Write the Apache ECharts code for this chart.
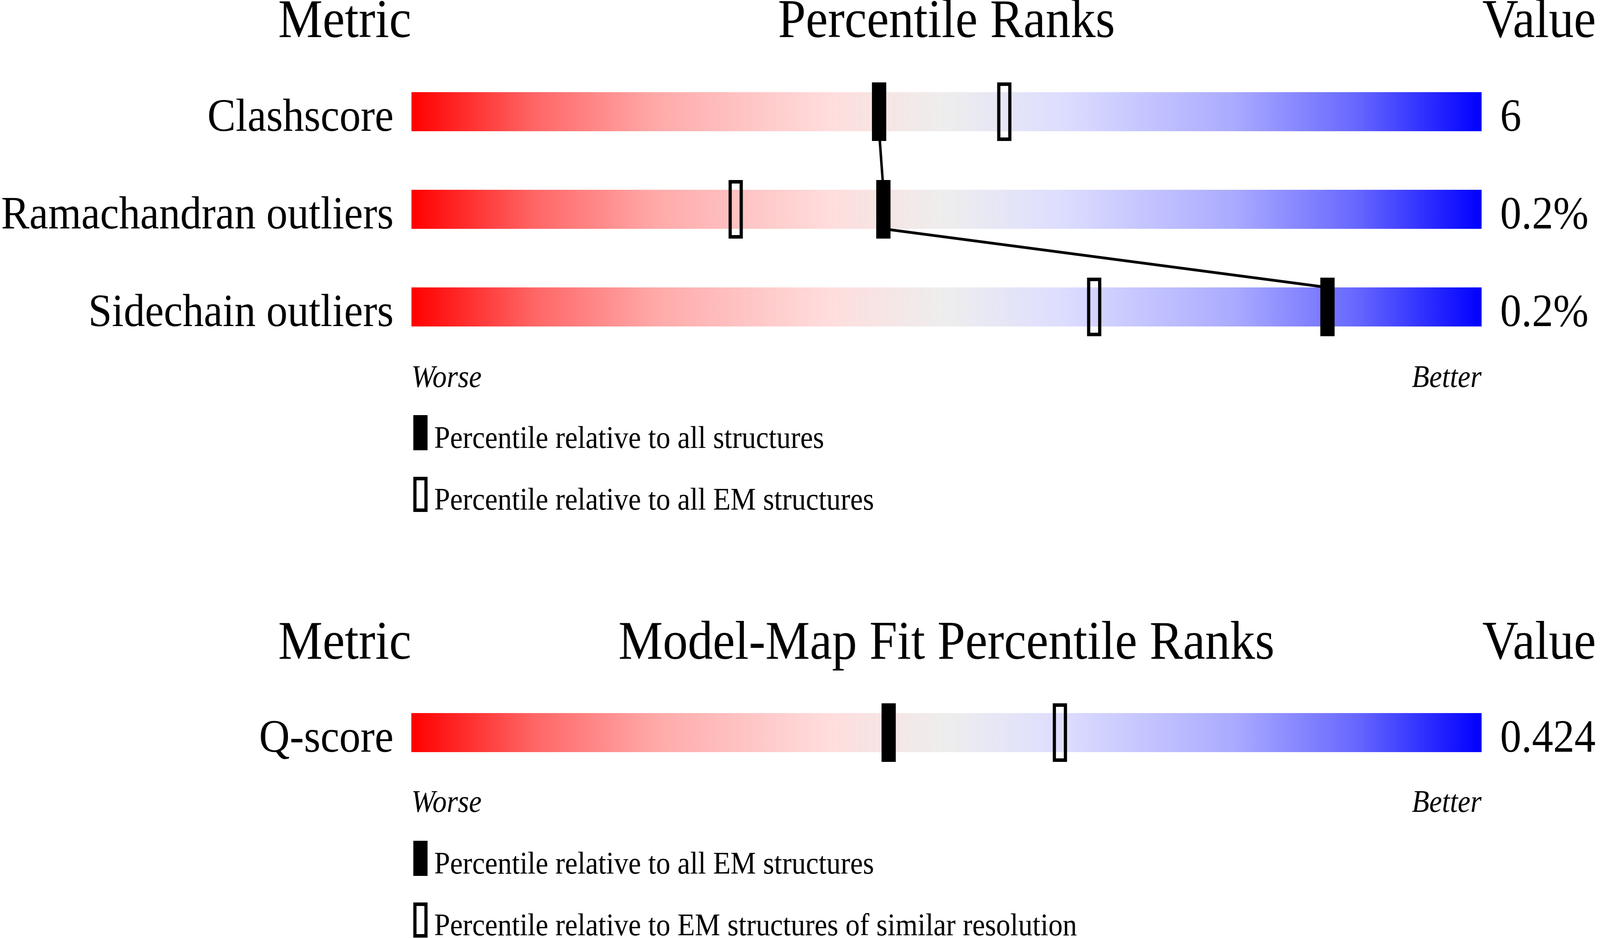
<!DOCTYPE html>
<html>
<head>
<meta charset="utf-8">
<script src="https://cdn.jsdelivr.net/npm/echarts@6/dist/echarts.min.js"></script>
<style>
  html, body { margin: 0; padding: 0; background: #fff; overflow: hidden; }
  #chart { width: 4485px; height: 2402px; transform-origin: 0 0; }
</style>
</head>
<body>
<div id="chart"></div>
<script>
// ---------- data ----------
const metrics1 = ['Clashscore', 'Ramachandran outliers', 'Sidechain outliers'];
const values1 = ['6', '0.2%', '0.2%'];
const pctAll1 = [43.7, 44.1, 85.6];      // percentile relative to all structures
const pctEM1 = [55.4, 30.3, 63.8];       // percentile relative to all EM structures
const fullScale1 = [100, 100, 100];

const metrics2 = ['Q-score'];
const values2 = ['0.424'];
const pctAllEM2 = [44.6];                // percentile relative to all EM structures
const pctSimRes2 = [60.6];               // percentile relative to EM structures of similar resolution
const fullScale2 = [100];

const headers1 = ['Metric', 'Percentile Ranks', 'Value'];
const headers2 = ['Metric', 'Model-Map Fit Percentile Ranks', 'Value'];
const endLabels = ['Worse', 'Better'];
const legendLabels1 = ['Percentile relative to all structures', 'Percentile relative to all EM structures'];
const legendLabels2 = ['Percentile relative to all EM structures', 'Percentile relative to EM structures of similar resolution'];

// ---------- styling ----------
const W = 4485, H = 2402;
const FONT = 'Liberation Serif';
const GL = 1153, GW = 3000;
const BAR_H = 100;
const MARK_W = 40, MARK_H = 150, MARK_BORDER = 9;
const gradient = {
  type: 'linear', x: 0, y: 0, x2: 1, y2: 0,
  colorStops: [
    { offset: 0, color: '#ff0000' },
    { offset: 0.115, color: '#ff6666' },
    { offset: 0.23, color: '#ffaaaa' },
    { offset: 0.39, color: '#ffdddd' },
    { offset: 0.5, color: '#eeeeee' },
    { offset: 0.61, color: '#ddddff' },
    { offset: 0.77, color: '#aaaaff' },
    { offset: 0.885, color: '#6666ff' },
    { offset: 1, color: '#0000ff' }
  ]
};

const legendNameMap = {
  s1all: legendLabels1[0], s1em: legendLabels1[1],
  s2all: legendLabels2[0], s2sim: legendLabels2[1]
};

function yAxesFor(gridIndex, cats, vals) {
  const common = {
    type: 'category', gridIndex: gridIndex, inverse: true,
    axisLine: { show: false }, axisTick: { show: false }, splitLine: { show: false }
  };
  const lbl = { fontFamily: FONT, fontSize: 119, color: '#000', verticalAlign: 'top', lineHeight: 36 };
  return [
    Object.assign({}, common, { position: 'left', data: cats, axisLabel: Object.assign({ margin: 50 }, lbl) }),
    Object.assign({}, common, { position: 'right', data: vals, axisLabel: Object.assign({ margin: 52 }, lbl) })
  ];
}

function connectorRender(params, api) {
  const p1 = api.coord([api.value(0), api.value(1)]);
  const p2 = api.coord([api.value(2), api.value(3)]);
  const half = BAR_H / 2;
  return {
    type: 'line',
    shape: { x1: p1[0], y1: p1[1] + half, x2: p2[0], y2: p2[1] - half },
    style: { stroke: '#000', lineWidth: 7 }
  };
}

const segments1 = pctAll1.slice(0, -1).map((v, i) => [v, i, pctAll1[i + 1], i + 1]);

function markerSeries(name, xi, yi, pcts, filled) {
  const fill = filled ? '#000' : 'rgba(0,0,0,0)';
  return {
    name: name, type: 'custom', xAxisIndex: xi, yAxisIndex: yi, z: 5,
    data: pcts.map((v, i) => [v, i]),
    encode: { x: 0, y: 1 },
    itemStyle: { color: fill, borderColor: '#000', borderWidth: MARK_BORDER },
    renderItem: function (params, api) {
      const c = api.coord([api.value(0), api.value(1)]);
      const w = MARK_W - MARK_BORDER, h = MARK_H - MARK_BORDER;
      return {
        type: 'rect',
        shape: { x: c[0] - w / 2, y: c[1] - h / 2, width: w, height: h },
        style: { fill: fill, stroke: '#000', lineWidth: MARK_BORDER }
      };
    },
    silent: true
  };
}

function legendAt(top, names) {
  return {
    orient: 'vertical', left: GL - 4 + MARK_BORDER / 2, top: top, height: 600,
    itemWidth: MARK_W - MARK_BORDER, itemHeight: 90 - MARK_BORDER, itemGap: 55,
    selectedMode: false,
    data: names.map(n => ({ name: n, icon: 'rect' })),
    itemStyle: { borderWidth: MARK_BORDER, borderColor: '#000' },
    formatter: n => '{t|' + legendNameMap[n] + '}',
    textStyle: {
      fontFamily: FONT, fontSize: 80, color: '#000',
      rich: { t: { fontFamily: FONT, fontSize: 80, color: '#000', padding: [36, 0, 0, 18] } }
    }
  };
}

function headerTexts(y, h) {
  return [
    { type: 'text', x: GL, y: y, style: { text: h[0], font: '140px "' + FONT + '"', fill: '#000', align: 'right', verticalAlign: 'middle' } },
    { type: 'text', x: GL + GW / 2, y: y, style: { text: h[1], font: '140px "' + FONT + '"', fill: '#000', align: 'center', verticalAlign: 'middle' } },
    { type: 'text', x: 4155, y: y, style: { text: h[2], font: '140px "' + FONT + '"', fill: '#000', align: 'left', verticalAlign: 'middle' } }
  ];
}
function endTexts(y) {
  return [
    { type: 'text', x: GL, y: y, style: { text: endLabels[0], font: 'italic 80px "' + FONT + '"', fill: '#000', align: 'left', verticalAlign: 'middle' } },
    { type: 'text', x: GL + GW, y: y, style: { text: endLabels[1], font: 'italic 80px "' + FONT + '"', fill: '#000', align: 'right', verticalAlign: 'middle' } }
  ];
}

// the page viewport may differ from the design size: fit the whole figure into it
const el = document.getElementById('chart');
const vw = window.innerWidth || W, vh = window.innerHeight || H;
el.style.transform = 'scale(' + (vw / W) + ',' + (vh / H) + ')';

const chart = echarts.init(el, null, { renderer: 'canvas', width: W, height: H });
chart.setOption({
  animation: false,
  backgroundColor: '#fff',
  grid: [
    { left: GL, top: 161, width: GW, height: 750, containLabel: false },
    { left: GL, top: 1751, width: GW, height: 250, containLabel: false }
  ],
  xAxis: [
    { type: 'value', gridIndex: 0, min: 0, max: 100, show: false },
    { type: 'value', gridIndex: 1, min: 0, max: 100, show: false }
  ],
  yAxis: yAxesFor(0, metrics1, values1).concat(yAxesFor(1, metrics2, values2)),
  legend: [
    legendAt(1058, ['s1all', 's1em']),
    legendAt(2148, ['s2all', 's2sim'])
  ],
  graphic: headerTexts(58, headers1).concat(headerTexts(1650, headers2), endTexts(970), endTexts(2058)),
  series: [
    { type: 'bar', xAxisIndex: 0, yAxisIndex: 0, data: fullScale1, barWidth: BAR_H, z: 1,
      itemStyle: { color: gradient }, silent: true, emphasis: { disabled: true } },
    { type: 'bar', xAxisIndex: 1, yAxisIndex: 2, data: fullScale2, barWidth: BAR_H, z: 1,
      itemStyle: { color: gradient }, silent: true, emphasis: { disabled: true } },
    { type: 'custom', xAxisIndex: 0, yAxisIndex: 0, z: 3, renderItem: connectorRender,
      data: segments1, encode: { x: [0, 2], y: [1, 3] }, silent: true },
    markerSeries('s1all', 0, 0, pctAll1, true),
    markerSeries('s1em', 0, 0, pctEM1, false),
    markerSeries('s2all', 1, 2, pctAllEM2, true),
    markerSeries('s2sim', 1, 2, pctSimRes2, false)
  ]
});
</script>
</body>
</html>
